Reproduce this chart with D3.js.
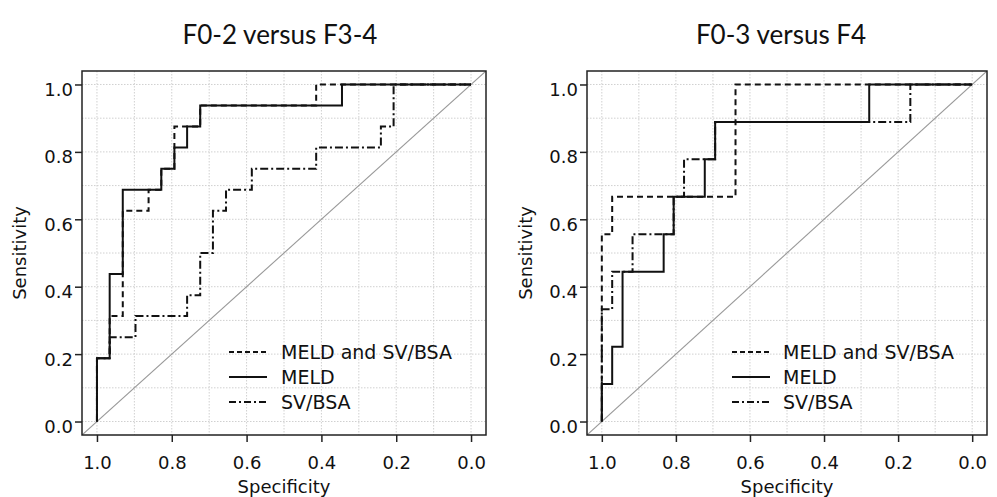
<!DOCTYPE html>
<html>
<head>
<meta charset="utf-8">
<script src="https://cdn.jsdelivr.net/npm/d3@7/dist/d3.min.js"></script>
<style>
  html, body { margin: 0; padding: 0; background: #fff; }
  svg { display: block; }
</style>
</head>
<body>
<svg id="chart" width="997" height="497"></svg>
<script>
// ---------------- DATA ----------------
const panelTitles = ["F0-2 versus F3-4", "F0-3 versus F4"];
const seriesNames = ["MELD and SV/BSA", "MELD", "SV/BSA"];
const tickValues = [1.0, 0.8, 0.6, 0.4, 0.2, 0.0];
const tickLabels = ["1.0", "0.8", "0.6", "0.4", "0.2", "0.0"];
const gridValues = [0, 0.1, 0.2, 0.3, 0.4, 0.5, 0.6, 0.7, 0.8, 0.9, 1.0];
const xLabel = "Specificity";
const yLabel = "Sensitivity";

// Panel A: F0-2 versus F3-4 (ROC vertices: specificity, sensitivity)
const aCombinedSpec = [1, 1, 0.966, 0.966, 0.931, 0.931, 0.862, 0.862, 0.828, 0.828, 0.793, 0.793, 0.724, 0.724, 0.414, 0.414, 0];
const aCombinedSens = [0, 0.188, 0.188, 0.313, 0.313, 0.625, 0.625, 0.688, 0.688, 0.75, 0.75, 0.875, 0.875, 0.938, 0.938, 1, 1];
const aMeldSpec = [1, 1, 0.966, 0.966, 0.931, 0.931, 0.828, 0.828, 0.793, 0.793, 0.759, 0.759, 0.724, 0.724, 0.345, 0.345, 0];
const aMeldSens = [0, 0.188, 0.188, 0.438, 0.438, 0.688, 0.688, 0.75, 0.75, 0.813, 0.813, 0.875, 0.875, 0.938, 0.938, 1, 1];
const aSvSpec = [1, 1, 0.966, 0.966, 0.897, 0.897, 0.759, 0.759, 0.724, 0.724, 0.69, 0.69, 0.655, 0.655, 0.586, 0.586, 0.414, 0.414, 0.241, 0.241, 0.207, 0.207, 0];
const aSvSens = [0, 0.188, 0.188, 0.25, 0.25, 0.313, 0.313, 0.375, 0.375, 0.5, 0.5, 0.625, 0.625, 0.688, 0.688, 0.75, 0.75, 0.813, 0.813, 0.875, 0.875, 1, 1];

// Panel B: F0-3 versus F4
const bCombinedSpec = [1, 1, 0.972, 0.972, 0.639, 0.639, 0];
const bCombinedSens = [0, 0.556, 0.556, 0.667, 0.667, 1, 1];
const bMeldSpec = [1, 1, 0.972, 0.972, 0.944, 0.944, 0.833, 0.833, 0.806, 0.806, 0.722, 0.722, 0.694, 0.694, 0.278, 0.278, 0];
const bMeldSens = [0, 0.111, 0.111, 0.222, 0.222, 0.444, 0.444, 0.556, 0.556, 0.667, 0.667, 0.778, 0.778, 0.889, 0.889, 1, 1];
const bSvSpec = [1, 1, 0.972, 0.972, 0.917, 0.917, 0.806, 0.806, 0.778, 0.778, 0.694, 0.694, 0.167, 0.167, 0];
const bSvSens = [0, 0.333, 0.333, 0.444, 0.444, 0.556, 0.556, 0.667, 0.667, 0.778, 0.778, 0.889, 0.889, 1, 1];

// ---------------- LAYOUT / STYLE ----------------
const seriesDash = ["6,4", null, "8,3,2,3"];
const legendDash = ["5,3", null, "7,3,2,3"];
const drawOrder = [0, 2, 1];

const panels = [
  { title: panelTitles[0], titleX: 280, left: 82, right: 486, top: 71, bottom: 435, ylabX: 20,
    series: [[aCombinedSpec, aCombinedSens], [aMeldSpec, aMeldSens], [aSvSpec, aSvSens]],
    legX1: 229, legX2: 267, legTextX: 281 },
  { title: panelTitles[1], titleX: 781, left: 587, right: 987, top: 71, bottom: 435, ylabX: 526,
    series: [[bCombinedSpec, bCombinedSens], [bMeldSpec, bMeldSens], [bSvSpec, bSvSens]],
    legX1: 732, legX2: 770, legTextX: 783 }
];

const svg = d3.select("#chart");
svg.append("rect").attr("width", 997).attr("height", 497).attr("fill", "#fff");

const tickFont = "'DejaVu Sans', Verdana, sans-serif";

panels.forEach((p, pi) => {
  const x = d3.scaleLinear().domain([1.04, -0.04]).range([p.left, p.right]);
  const y = d3.scaleLinear().domain([-0.04, 1.04]).range([p.bottom, p.top]);
  const g = svg.append("g");

  const clipId = "clip" + pi;
  svg.append("defs").append("clipPath").attr("id", clipId)
    .append("rect").attr("x", p.left).attr("y", p.top)
    .attr("width", p.right - p.left).attr("height", p.bottom - p.top);

  // grid
  const grid = g.append("g").attr("clip-path", `url(#${clipId})`);
  grid.selectAll("line.v").data(gridValues).join("line")
    .attr("x1", d => x(d)).attr("x2", d => x(d))
    .attr("y1", p.top).attr("y2", p.bottom)
    .attr("stroke", "#d0d0d0").attr("stroke-width", 1).attr("stroke-dasharray", "1.5,1.5");
  grid.selectAll("line.h").data(gridValues).join("line")
    .attr("y1", d => y(d)).attr("y2", d => y(d))
    .attr("x1", p.left).attr("x2", p.right)
    .attr("stroke", "#d0d0d0").attr("stroke-width", 1).attr("stroke-dasharray", "1.5,1.5");

  // diagonal reference
  grid.append("line")
    .attr("x1", x(1.04)).attr("y1", y(-0.04))
    .attr("x2", x(-0.04)).attr("y2", y(1.04))
    .attr("stroke", "#999").attr("stroke-width", 1.1);

  // curves
  const line = d3.line().x(d => x(d[0])).y(d => y(d[1]));
  drawOrder.forEach(si => {
    const [sp, se] = p.series[si];
    const pts = sp.map((v, i) => [v, se[i]]);
    g.append("path").datum(pts)
      .attr("d", line)
      .attr("fill", "none")
      .attr("stroke", "#111")
      .attr("stroke-width", 2)
      .attr("stroke-dasharray", seriesDash[si]);
  });

  // frame
  g.append("rect")
    .attr("x", p.left).attr("y", p.top)
    .attr("width", p.right - p.left).attr("height", p.bottom - p.top)
    .attr("fill", "none").attr("stroke", "#222").attr("stroke-width", 1.5);

  // axes
  const xAxis = d3.axisBottom(x).tickValues(tickValues).tickFormat((d, i) => tickLabels[i])
    .tickSizeOuter(0).tickSizeInner(7).tickPadding(14);
  const gx = g.append("g").attr("transform", `translate(0,${p.bottom})`).call(xAxis);
  gx.select(".domain").remove();
  gx.selectAll("line").attr("stroke", "#222").attr("stroke-width", 1.5);
  gx.selectAll("text").attr("font-family", tickFont).attr("font-size", 18).attr("fill", "#111");

  const yAxis = d3.axisLeft(y).tickValues(tickValues).tickFormat((d, i) => tickLabels[i])
    .tickSizeOuter(0).tickSizeInner(7).tickPadding(2);
  const gy = g.append("g").attr("transform", `translate(${p.left},0)`).call(yAxis);
  gy.select(".domain").remove();
  gy.selectAll("line").attr("stroke", "#222").attr("stroke-width", 1.5);
  gy.selectAll("text").attr("font-family", tickFont).attr("font-size", 18).attr("fill", "#111")
    .attr("dy", "0.95em").attr("y", -6);

  // axis labels
  g.append("text")
    .attr("x", (p.left + p.right) / 2).attr("y", 493)
    .attr("text-anchor", "middle")
    .attr("font-family", tickFont).attr("font-size", 18).attr("fill", "#111")
    .text(xLabel);
  g.append("text")
    .attr("transform", `translate(${p.ylabX},${(p.top + p.bottom) / 2}) rotate(-90)`)
    .attr("text-anchor", "middle").attr("dy", "0.35em")
    .attr("font-family", tickFont).attr("font-size", 18).attr("fill", "#111")
    .text(yLabel);

  // title
  g.append("text")
    .attr("x", p.titleX).attr("y", 44)
    .attr("text-anchor", "middle")
    .attr("font-family", "Lato, 'Open Sans', sans-serif").attr("font-size", 26).attr("fill", "#111")
    .text(p.title);

  // legend
  const legY = [352, 377, 402];
  seriesNames.forEach((name, si) => {
    g.append("line")
      .attr("x1", p.legX1).attr("x2", p.legX2)
      .attr("y1", legY[si]).attr("y2", legY[si])
      .attr("stroke", "#111").attr("stroke-width", 2)
      .attr("stroke-dasharray", legendDash[si]);
    g.append("text")
      .attr("x", p.legTextX).attr("y", legY[si]).attr("dy", "0.36em")
      .attr("font-family", tickFont).attr("font-size", 19).attr("fill", "#111")
      .text(name);
  });
});
</script>
</body>
</html>
